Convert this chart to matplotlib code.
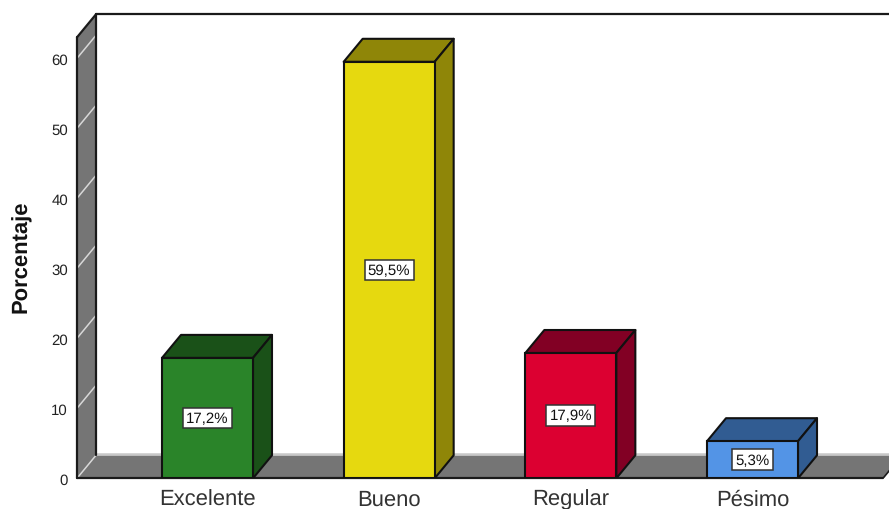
import matplotlib
matplotlib.use("Agg")
import matplotlib.pyplot as plt
from matplotlib.patches import Polygon

categories = ["Excelente", "Bueno", "Regular", "Pésimo"]
values = [17.2, 59.5, 17.9, 5.3]
value_labels = ["17,2%", "59,5%", "17,9%", "5,3%"]
y_ticks = [0, 10, 20, 30, 40, 50, 60]

front_colors = ["#2A8429", "#E6D90F", "#DC0031", "#5394E6"]
dark_colors = ["#1A5118", "#8F8608", "#820024", "#315C92"]

W, H = 889, 510
PX_X = 181.67   # pixels per category step
PX_Y = 7.0      # pixels per percent
X0 = 207.5      # pixel of first category
Y0 = 479.3      # pixel of zero
LEFT, TOP = 77, 15.3
DX = 19 / PX_X
DY = 23 / PX_Y
BAR_W = 91 / PX_X

plt.rcParams["font.family"] = ["Liberation Sans", "DejaVu Sans"]
plt.rcParams["text.hinting"] = "no_hinting"
plt.rcParams["text.hinting_factor"] = 1
fig = plt.figure(figsize=(W / 100, H / 100), dpi=100)
ax = fig.add_axes([LEFT / W, (H - Y0) / H, (W - LEFT) / W, (Y0 - TOP) / H])
xmin = (LEFT - X0) / PX_X
xmax = (W - X0) / PX_X
ax.set_xlim(xmin, xmax)
ax.set_ylim(0, (Y0 - TOP) / PX_Y)
for s in ax.spines.values():
    s.set_visible(False)

wall = "#757575"
ytop_back = (Y0 - TOP) / PX_Y
ytop_front = ytop_back - DY
floor_right = (883 - X0) / PX_X

# left wall
ax.add_patch(Polygon([(xmin, 0), (xmin + DX, DY), (xmin + DX, ytop_back), (xmin, ytop_front)],
                     closed=True, fc=wall, ec="none", zorder=1, clip_on=False))
# floor
ax.add_patch(Polygon([(xmin, 0), (floor_right, 0), (floor_right + DX, DY), (xmin + DX, DY)],
                     closed=True, fc=wall, ec="none", zorder=1))
# wall gridlines
for t in y_ticks:
    ax.plot([xmin, xmin + DX], [t, t + DY], color="#D8D8D8", lw=1.1, zorder=2, clip_on=False)
# floor back edge (light) and black frame
ax.plot([xmin + DX, xmax], [DY + 0.12, DY + 0.12], color="#C8C8C8", lw=1.8, zorder=2)
k = dict(color="#1A1A1A", lw=1.6, zorder=3, clip_on=False, solid_capstyle="round")
ax.plot([xmin, xmin], [0, ytop_front], **k)
ax.plot([xmin + DX, xmin + DX], [DY, ytop_back], **k)
ax.plot([xmin, xmin + DX], [ytop_front, ytop_back], **k)
ax.plot([xmin + DX, xmax], [ytop_back, ytop_back], **k)
ax.plot([xmin, floor_right], [0, 0], **k)
ax.plot([floor_right, floor_right + DX], [0, DY], color="#1A1A1A", lw=1.2, zorder=3)

# bars
positions = range(len(categories))
bars = ax.bar(positions, values, width=BAR_W, color=front_colors, edgecolor="#111111",
              linewidth=1.5, zorder=5)
for p, v, d in zip(positions, values, dark_colors):
    l, r = p - BAR_W / 2, p + BAR_W / 2
    ax.add_patch(Polygon([(l, v), (r, v), (r + DX, v + DY), (l + DX, v + DY)], closed=True,
                         fc=d, ec="#111111", lw=1.5, zorder=4, joinstyle="round"))
    ax.add_patch(Polygon([(r, 0), (r + DX, DY), (r + DX, v + DY), (r, v)], closed=True,
                         fc=d, ec="#111111", lw=1.5, zorder=4, joinstyle="round"))

for p, v, lab in zip(positions, values, value_labels):
    ax.text(p, v / 2, lab, ha="center", va="center", fontsize=11, color="#111111", zorder=6,
            bbox=dict(boxstyle="square,pad=0.22", fc="white", ec="#333333", lw=1.1))

ax.set_xticks(list(positions), categories, fontsize=15.6, color="#333333")
ax.set_yticks(y_ticks, [str(t) for t in y_ticks], fontsize=11, color="#222222")
ax.tick_params(axis="x", length=0, pad=7.5)
ax.tick_params(axis="y", length=0, pad=6.5)
fig.text(21 / W, 1 - 257 / H, "Porcentaje", rotation=90, ha="center", va="center",
         fontsize=15.8, fontweight="bold", color="#111111")

fig.savefig("out.png", dpi=100)
